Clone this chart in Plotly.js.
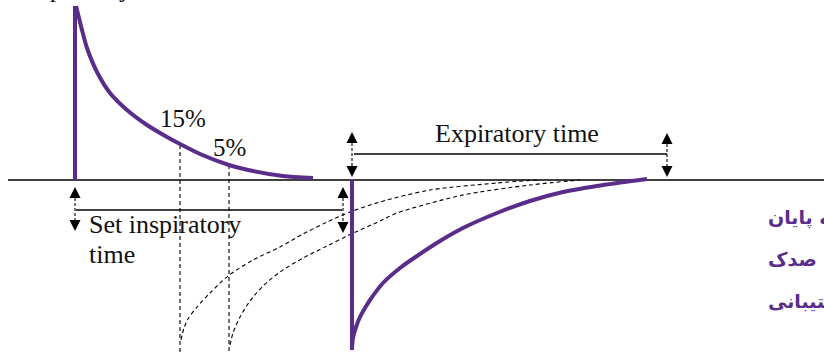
<!DOCTYPE html>
<html>
<head>
<meta charset="utf-8">
<script src="https://cdn.plot.ly/plotly-3.0.1.min.js"></script>
<style>html,body{margin:0;padding:0;background:#fff;overflow:hidden}#chart{width:824px;height:352px}</style>
</head>
<body>
<div id="chart"></div>
<script>
// ---- data (diagram units = picture pixels) ----
const baselineX = [8, 824];
const baselineY = [180, 180];

const inspVertX = [75, 75];
const inspVertY = [180, 6];
const inspCurveX = [76, 79, 82, 87, 97, 110, 127, 147, 167, 180, 200, 229, 253, 283, 313];
const inspCurveY = [6, 18, 30, 48, 72, 93, 110, 125, 137, 144, 154, 165, 171, 176, 178];

const expVertX = [352, 352];
const expVertY = [180, 350];
const expCurveX = [352, 353, 356, 360, 365, 370, 383, 400, 417, 440, 463, 497, 530, 563, 597, 647];
const expCurveY = [348, 338, 327, 317, 308, 300, 283, 268, 256, 241, 228, 213, 201, 192, 186, 179];

const drop15X = [180, 180];
const drop15Y = [145, 352];
const drop5X = [229, 229];
const drop5Y = [165, 352];

const dash15CurveX = [181, 184, 188, 197, 210, 228, 253, 280, 303, 327, 350, 380, 430, 497, 537];
const dash15CurveY = [340, 328, 319, 307, 293, 276, 260, 247, 234, 222, 212, 202, 190, 183, 180];
const dash5CurveX = [230, 233, 240, 250, 263, 280, 303, 327, 347, 380, 397, 463, 530, 580];
const dash5CurveY = [345, 333, 317, 301, 286, 272, 258, 246, 236, 221, 213, 195, 185, 180];

const setInspBarX = [76, 342];
const setInspBarY = [210, 210];
const expBarX = [354, 667];
const expBarY = [154, 154];

const arrowX = [75, 343, 352, 667];
const arrowTopY = [187, 187, 132, 133];
const arrowBottomY = [231, 233, 177, 177];

const labels = ["Expiratory time", "Set inspiratory", "time", "15%", "5%", "Inspiratory flow"];
const labelX = [517, 87, 87, 182.5, 229, 16];
const labelY = [133, 224, 254, 118.5, 147.5, 5.5];

const faLines = ["نقطه پایان", "پانزده\u00a0\u00a0\u00a0صدک", "پشتیبانی"];
const faY = [217, 259, 301];
const faX = 766;

// ---- build ----
const purple = '#5b2d8a';
const traces = [];
function line(x, y, color, width, dash, shape) {
  traces.push({x: x, y: y, type: 'scatter', mode: 'lines', cliponaxis: false,
    line: {color: color, width: width, dash: dash || 'solid', shape: shape || 'linear', smoothing: 0.8},
    hoverinfo: 'skip'});
}
line(baselineX, baselineY, '#000', 1.4);
line(drop15X, drop15Y, '#000', 1.1, '4px,3px');
line(drop5X, drop5Y, '#000', 1.1, '4px,3px');
line(dash15CurveX, dash15CurveY, '#000', 1.1, '4px,3px', 'spline');
line(dash5CurveX, dash5CurveY, '#000', 1.1, '4px,3px', 'spline');
line(setInspBarX, setInspBarY, '#000', 1.3);
line(expBarX, expBarY, '#000', 1.3);
line(inspVertX, inspVertY, purple, 4);
line(inspCurveX, inspCurveY, purple, 4, 'solid', 'spline');
line(expVertX, expVertY, purple, 4);
line(expCurveX, expCurveY, purple, 4, 'solid', 'spline');

// arrow shafts
const shaftX = [], shaftY = [];
arrowX.forEach((x, i) => { shaftX.push(x, x, null); shaftY.push(arrowTopY[i] + 6, arrowBottomY[i] - 6, null); });
line(shaftX, shaftY, '#000', 1.1, '3px,2px');
// arrow heads
traces.push({x: arrowX, y: arrowTopY, type: 'scatter', mode: 'markers', cliponaxis: false,
  marker: {symbol: 'arrow-up', size: 11, color: '#000', line: {width: 0}}, hoverinfo: 'skip'});
traces.push({x: arrowX, y: arrowBottomY, type: 'scatter', mode: 'markers', cliponaxis: false,
  marker: {symbol: 'arrow-down', size: 11, color: '#000', line: {width: 0}}, hoverinfo: 'skip'});

const serif = 'Liberation Serif, Times New Roman, serif';
const annotations = labels.map((t, i) => ({
  text: t, x: labelX[i], y: labelY[i], xref: 'x', yref: 'y', showarrow: false,
  xanchor: (i === 1 || i === 2 || i === 5) ? 'left' : 'center', yanchor: i === 5 ? 'bottom' : 'middle',
  font: {family: serif, size: (i === 3 || i === 4) ? 25 : 26, color: '#111'}
}));
faLines.forEach((t, i) => annotations.push({
  text: '<b>' + t + '</b>', x: faX, y: faY[i], xref: 'x', yref: 'y', showarrow: false,
  xanchor: 'left', yanchor: 'middle',
  font: {family: 'DejaVu Sans', size: 19, color: purple}
}));

const layout = {
  width: 824, height: 352, margin: {l: 0, r: 0, t: 0, b: 0},
  paper_bgcolor: '#fff', plot_bgcolor: '#fff', showlegend: false, hovermode: false,
  xaxis: {range: [0, 824], visible: false, fixedrange: true},
  yaxis: {range: [352, 0], visible: false, fixedrange: true},
  annotations: annotations
};
Plotly.newPlot('chart', traces, layout, {staticPlot: true, displayModeBar: false});
</script>
</body>
</html>
